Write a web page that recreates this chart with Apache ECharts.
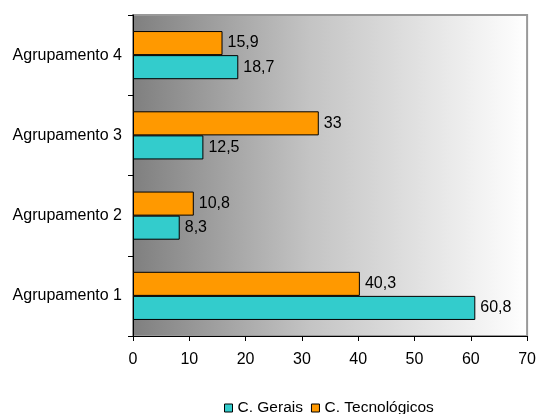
<!DOCTYPE html>
<html>
<head>
<meta charset="utf-8">
<script src="https://cdn.jsdelivr.net/npm/echarts@6/dist/echarts.min.js"></script>
<style>
  html, body { margin: 0; padding: 0; background: #fff; }
  #chart { width: 539px; height: 414px; }
</style>
</head>
<body>
<div id="chart"></div>
<script>
// Groups shown on the category axis (bottom to top)
const categories = ['Agrupamento 1', 'Agrupamento 2', 'Agrupamento 3', 'Agrupamento 4'];
// Percentages per group
const geraisValues = [60.8, 8.3, 12.5, 18.7];
const tecnologicosValues = [40.3, 10.8, 33, 15.9];
const seriesNames = ['C. Gerais', 'C. Tecnológicos'];
const xTicks = { min: 0, max: 70, interval: 10 };

const fontFamily = 'Liberation Sans, Arial, sans-serif';
const fmt = v => String(v).replace('.', ',');

const chart = echarts.init(document.getElementById('chart'));

function barSeries(name, data, color) {
  return {
    name: name,
    type: 'bar',
    data: data,
    barGap: '0%',
    barCategoryGap: '40%',
    itemStyle: { color: color, borderColor: '#000', borderWidth: 1 },
    label: {
      show: true,
      position: 'right',
      distance: 5,
      color: '#000',
      fontSize: 16,
      fontFamily: fontFamily,
      formatter: p => fmt(p.value)
    }
  };
}

chart.setOption({
  animation: false,
  textStyle: { fontFamily: fontFamily },
  grid: {
    left: 133, top: 15, right: 8, bottom: 78,
    show: true,
    borderColor: '#999',
    borderWidth: 2,
    backgroundColor: new echarts.graphic.LinearGradient(0, 0, 1, 0, [
      { offset: 0, color: '#7f7f7f' },
      { offset: 0.45, color: '#c4c4c4' },
      { offset: 1, color: '#ffffff' }
    ])
  },
  legend: {
    bottom: -7,
    left: 219,
    itemWidth: 8,
    itemHeight: 8,
    itemGap: 8,
    icon: 'rect',
    textStyle: { fontSize: 15.5, color: '#000', fontFamily: fontFamily },
    data: seriesNames.map(n => ({ name: n, itemStyle: { borderColor: '#000', borderWidth: 1 } }))
  },
  xAxis: {
    type: 'value',
    min: xTicks.min,
    max: xTicks.max,
    interval: xTicks.interval,
    axisLine: { show: true, lineStyle: { color: '#000', width: 1 } },
    axisTick: { show: true, length: 5, lineStyle: { color: '#000' } },
    axisLabel: { color: '#000', fontSize: 16, margin: 16, fontFamily: fontFamily },
    splitLine: { show: false }
  },
  yAxis: {
    type: 'category',
    data: categories,
    axisLine: { show: true, lineStyle: { color: '#000', width: 1 } },
    axisTick: { show: true, length: 5, lineStyle: { color: '#000' } },
    axisLabel: { color: '#000', fontSize: 16, margin: 11, fontFamily: fontFamily }
  },
  // Tecnológicos listed first so it sits above Gerais within each group
  series: [
    barSeries(seriesNames[1], tecnologicosValues, '#ff9900'),
    barSeries(seriesNames[0], geraisValues, '#33cccc')
  ]
});
</script>
</body>
</html>
